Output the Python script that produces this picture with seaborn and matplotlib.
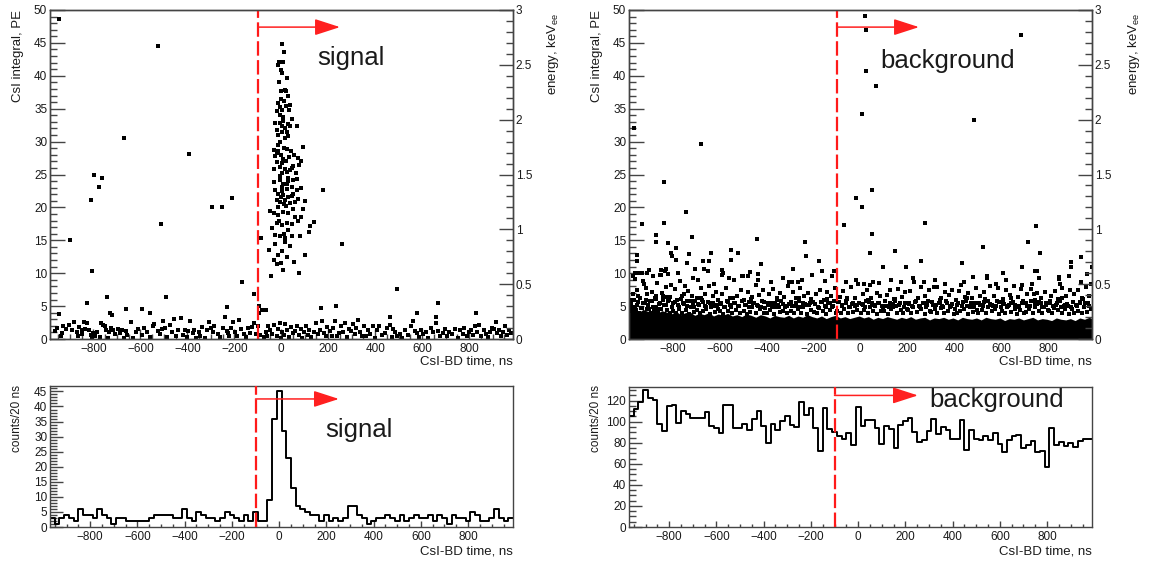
import numpy as np
import pandas as pd
import matplotlib
matplotlib.use("Agg")
import matplotlib.pyplot as plt
import seaborn as sns
from matplotlib.ticker import MultipleLocator, FuncFormatter

# ---------------- data ----------------
# signal scatter: sparse outliers
sig_out_x = [-948, -527, -671, -391, -796, -763, -775, -812, -898, -804, -512, -293, -253, -210,
             -167, -117, -86, -45, -827, -741, -491, -728, -720, -946, -660, -592, -557, -232,
             -66, -96, -96, 179, 257, 495, 668, 233, 168, 831, 576, 463, 661, 916, 77, 9]
sig_out_y = [48.6, 44.6, 30.6, 28.1, 25.0, 24.5, 23.1, 21.2, 15.0, 10.3, 17.5, 20.1, 20.1, 21.4,
             8.7, 6.9, 15.3, 9.6, 5.5, 6.4, 6.4, 3.9, 3.7, 3.8, 4.5, 4.5, 4.0, 4.9,
             4.4, 5.0, 4.0, 22.6, 14.5, 7.6, 5.5, 5.0, 4.7, 3.9, 3.9, 3.4, 3.4, 2.6, 10.1, 10.5]
# signal scatter: prompt cluster
sig_cl_x = [5, 13, -9, 9, -12, -3, 1, 26, -9,
            -3, 15, 22, -16, -7, 20, 37, -19, 2, 34, -5, 9, -1, 12, 28,
            -26, -7, 2, 30, 37, 66, 16, -12, 23, 16, -5, 8, 45, -18, 28, 5,
            -12, -33, -14, -19, 40, 91, 33, 9, -19, 2, 20, 73, 83, -5, 16, 52, 77, 2, 23, 37, -7, 30,
            -25, 12, 26, 55, -2, 44, 62, -30,
            -5, 9, 30, 52, 66, 2, 23, 44, 66, -12, 9, 30, 52, 73, -19, -5, 16, 37, 59, -26, 86, 20,
            -12, 44, 5, 26, -2, 12, -33, 100,
            -33, -12, 9, 30, 52, 94, -19, 2, 23, 44, 73, 123, -5, 16, 44, 80, 116, -40, 60, -25, 30,
            10, -10, 85, -48, 140,
            37, -33, -12, 2, -19, -54, 23, 55, -26, -2, 15, 100]
sig_cl_y = [44.8, 43.6, 42.1, 42.1, 41.6, 40.9, 40.5, 39.7, 39.1,
            37.7, 37.8, 37.7, 35.8, 35.3, 35.4, 35.5, 34.7, 34.8, 34.8, 34.0, 33.7, 36.5, 36.2, 37.0,
            32.8, 32.9, 32.4, 32.7, 32.4, 32.4, 32.0, 31.0, 31.4, 30.5, 30.0, 33.2, 33.5, 31.8, 30.8, 31.5,
            29.5, 28.7, 28.5, 28.2, 28.5, 29.2, 27.7, 27.3, 26.9, 26.8, 27.0, 27.5, 27.1, 26.2, 25.9, 26.3,
            26.4, 25.2, 25.4, 25.7, 24.7, 24.4,
            27.8, 29.0, 28.9, 28.0, 28.0, 26.0, 25.3, 25.8,
            24.2, 23.6, 24.0, 24.2, 24.3, 23.1, 22.8, 23.1, 22.6, 22.1, 21.9, 21.6, 22.1, 21.3, 21.1, 20.8,
            21.1, 20.6, 20.8, 22.6, 23.0, 20.2,
            20.0, 21.8, 22.5, 23.5, 21.6, 20.5, 23.8, 20.9,
            19.1, 18.8, 19.3, 19.1, 19.7, 19.7, 17.6, 17.3, 17.6, 17.5, 17.9, 17.2, 15.6, 15.3, 15.6, 15.6,
            16.3, 16.8, 18.5, 15.8, 16.5,
            16.0, 18.0, 18.6, 19.5, 17.8,
            14.1, 12.0, 12.7, 13.3, 11.4, 13.5, 12.5, 11.7, 14.4, 11.5, 14.8, 12.7]
# signal scatter: low-amplitude band
sig_lo_x = [-965, -955, -940, -928, -918, -905, -935, -890, -882, -872, -861, -850, -842, -835, -826,
            -818, -812, -805, -800, -848, -866, -792, -784, -771, -760, -752, -745, -733, -725, -716,
            -707, -768, -740, -695, -686, -677, -668, -655, -642, -630, -620, -610, -660, -595, -585,
            -570, -560, -548, -540, -527, -516, -508, -502, -495, -485, -476, -466, -455, -448, -440,
            -428, -420, -410, -402, -396, -388, -378, -370, -362, -352, -345, -338, -326, -318, -306,
            -300, -292, -285, -270, -262, -250, -240, -232, -222, -214, -205, -225, -196, -188, -180,
            -172, -160, -150, -142, -132, -126, -118, -108, -97, -90, -82, -75, -65, -55, -48,
            -40, -30, -20, -12, -5, -2, -62, 5, 12, 18, 26, 34, 42, 50, 58,
            66, 74, 82, 90, 96, 104, 112, 120, 128, 138, 148, 156, 164, 172, 180,
            190, 196, 206, 214, 222, 230, 238, 248, 256, 265, 272, 282, 290, 298, 305,
            312, 320, 328, 336, 344, 352, 362, 370, 380, 390, 398, 408, 418, 428, 440,
            450, 462, 470, 478, 486, 494, 505, 515, 528, 540, 552, 560, 568, 578, 585,
            595, 605, 615, 625, 638, 648, 660, 668, 678, 688, 698, 708, 716, 728, 740,
            752, 762, 772, 780, 790, 798, 808, 816, 826, 834, 842, 852, 862, 870, 880,
            890, 898, 908, 914, 920, 928, 938, 946, 955, 962, 970, 978]
sig_lo_y = [1.2, 1.6, 0.4, 1.9, 1.5, 2.1, 0.9, 1.3, 2.6, 1.0, 1.8, 0.7, 2.6, 1.5, 2.5,
            1.3, 0.6, 0.2, 0.9, 1.4, 0.5, 0.4, 1.1, 0.3, 2.2, 1.9, 1.3, 1.0, 1.6, 1.3,
            0.8, 2.5, 0.2, 1.5, 0.9, 1.4, 0.2, 0.6, 2.6, 0.1, 1.0, 1.5, 1.2, 0.6, 1.6,
            1.0, 0.3, 1.9, 2.3, 1.2, 0.7, 1.5, 2.7, 1.6, 0.3, 2.2, 1.0, 3.1, 0.5, 1.3,
            3.2, 0.6, 1.4, 0.3, 1.2, 2.8, 0.9, 1.4, 0.2, 1.1, 0.5, 1.8, 0.2, 1.3, 2.6,
            1.6, 1.0, 1.9, 0.8, 0.3, 1.6, 3.3, 1.2, 0.4, 1.6, 2.6, 0.9, 1.1, 0.4, 2.9,
            1.5, 0.8, 0.3, 1.6, 0.9, 1.8, 2.5, 0.7, 1.9, 0.6, 4.4, 0.3, 1.0, 1.9, 1.4,
            0.8, 2.1, 0.4, 1.5, 2.4, 0.2, 0.4, 1.0, 0.6, 2.3, 1.4, 0.3, 1.8, 0.9, 1.2,
            2.0, 0.6, 1.5, 0.2, 1.1, 1.9, 0.6, 1.4, 0.3, 1.1, 2.4, 0.7, 1.3, 2.8, 0.9,
            0.4, 1.8, 1.2, 0.5, 1.6, 2.7, 0.4, 0.9, 2.0, 1.0, 2.5, 0.3, 1.5, 1.2, 2.3,
            0.8, 1.7, 2.9, 1.1, 0.5, 2.0, 0.4, 1.3, 0.7, 1.9, 0.2, 1.3, 2.0, 0.6, 0.9,
            1.7, 2.1, 0.3, 1.5, 1.0, 0.5, 0.8, 0.2, 1.4, 0.6, 1.9, 2.8, 1.2, 0.9, 0.3,
            1.3, 0.7, 1.0, 0.2, 1.6, 1.1, 2.5, 1.2, 0.5, 0.9, 1.5, 0.4, 1.1, 0.7, 1.5,
            0.2, 1.3, 0.8, 1.6, 0.4, 1.1, 1.4, 0.6, 1.9, 1.1, 2.2, 0.5, 1.3, 0.8, 0.3,
            1.0, 1.7, 1.5, 2.6, 0.9, 1.3, 0.4, 1.1, 2.0, 0.6, 1.4, 0.9]

# background scatter: high outliers
bg_hi_x = [21, 26, 26, 65, 9, -964, -679, 683, 484,
           -836, -743, -928, -836, -871, -717, -821, -871, -441, -234, -230, -177, -162, -110, -71,
           -17, 7, 51, 51, 40, -551, -551, -519, -637, -644, -423, -288, -900, -950, -950, -960,
           -786, -807, -800, -786, -850, -826, -588, -588, -480, -503, -435, -703, -665, -736, -850,
           -907, -930, -302, -267, 275, 749, 716, 766, 524, 146, 260, 196, 435, 97, 687, 609, 744,
           752, 941, 896, 896, 986, 848, 848]
bg_hi_y = [49.1, 47.0, 40.8, 38.4, 34.2, 32.0, 29.6, 46.2, 33.3,
           23.8, 19.3, 17.5, 17.6, 15.8, 15.5, 14.6, 14.7, 15.2, 14.7, 12.6, 11.9, 10.3, 10.3, 17.4,
           21.4, 20.1, 22.7, 16.0, 13.0, 13.5, 12.0, 13.0, 13.1, 11.8, 11.4, 10.6, 10.5, 12.7, 11.8, 10.0,
           13.8, 13.1, 12.6, 12.0, 10.5, 10.7, 10.5, 9.8, 9.5, 9.5, 9.0, 10.6, 10.6, 11.6, 9.7,
           10.0, 10.1, 8.7, 8.7, 17.7, 17.1, 14.7, 13.1, 14.0, 13.4, 11.9, 11.0, 11.5, 11.0, 11.0, 10.0, 10.3,
           10.4, 12.4, 11.7, 11.0, 10.9, 9.4, 9.1]
# background scatter: medium band (5-10 PE)
bg_md_x = [-975, -968, -961, -951, -946, -937, -931, -921, -916, -907, -902, -958, -942, -925, -970, -912,
           -895, -887, -881, -871, -866, -857, -851, -842, -837, -827, -821, -811, -806, -884, -862, -846, -833, -818,
           -796, -787, -781, -771, -766, -755, -749, -739, -733, -723, -717, -707, -776, -745, -712, -728,
           -694, -687, -677, -671, -661, -655, -645, -639, -629, -623, -613, -607, -690, -650, -625, -668,
           -596, -587, -581, -571, -565, -555, -549, -539, -533, -523, -517, -507, -584, -560, -500,
           -494, -488, -478, -472, -462, -456, -446, -440, -430, -424, -414, -408, -470, -435,
           -394, -388, -378, -372, -362, -356, -346, -340, -330, -324, -314, -308, -380, -330,
           -294, -288, -278, -272, -262, -256, -246, -240, -230, -224, -214, -208, -290, -250, -205,
           -194, -188, -178, -172, -162, -156, -146, -140, -130, -124, -114, -108, -150, -120,
           -94, -88, -78, -72, -62, -56, -46, -40, -30, -24, -14, -8, -60, -20,
           6, 12, 22, 28, 38, 44, 54, 60, 70, 76, 86, 92, 40, 80, 15,
           106, 112, 122, 128, 138, 144, 154, 160, 170, 176, 186, 192, 130, 175,
           206, 212, 222, 228, 238, 244, 254, 260, 270, 276, 286, 292, 225, 270,
           306, 312, 322, 328, 338, 344, 354, 360, 370, 376, 386, 392, 320, 360,
           406, 412, 422, 428, 438, 444, 454, 460, 470, 476, 486, 492, 440, 480,
           506, 512, 522, 528, 538, 544, 554, 560, 570, 576, 586, 592, 540, 580,
           606, 612, 622, 628, 638, 644, 654, 660, 670, 676, 686, 692, 620, 690,
           706, 712, 722, 728, 738, 744, 754, 760, 770, 776, 786, 792, 730, 760,
           806, 812, 822, 828, 838, 844, 854, 860, 870, 876, 886, 892, 850, 890,
           906, 912, 922, 928, 938, 944, 954, 960, 970, 976, 982, 940, 965]
bg_md_y = [5.2, 6.8, 4.9, 7.5, 5.6, 6.2, 4.7, 8.3, 5.4, 6.9, 5.0, 9.1, 10.0, 8.8, 9.6, 7.8,
           5.8, 7.2, 4.9, 6.1, 8.5, 5.3, 9.7, 6.6, 5.1, 7.9, 5.7, 6.4, 8.2, 9.6, 4.6, 7.0, 10.4, 9.9,
           5.4, 7.6, 6.0, 4.8, 8.8, 5.5, 6.9, 5.0, 7.3, 5.8, 6.5, 4.9, 10.0, 8.1, 9.3, 12.9,
           6.2, 5.1, 7.8, 5.6, 6.9, 4.8, 8.0, 5.4, 6.5, 5.0, 7.2, 5.9, 9.0, 10.3, 8.4, 11.9,
           5.3, 6.8, 4.9, 7.7, 5.6, 6.2, 4.8, 8.9, 5.5, 6.6, 5.0, 7.4, 10.1, 9.2, 9.5,
           6.0, 5.2, 7.1, 4.9, 6.4, 5.5, 8.2, 5.1, 6.7, 4.8, 7.5, 5.6, 10.2, 9.9,
           5.4, 6.9, 4.8, 7.6, 5.5, 6.2, 4.9, 7.0, 5.3, 6.4, 5.0, 8.1, 8.7, 9.3,
           5.6, 7.2, 5.0, 6.3, 4.8, 7.8, 5.4, 6.6, 5.1, 7.0, 5.5, 6.1, 8.6, 9.0, 9.8,
           5.3, 6.8, 4.9, 7.4, 5.6, 6.0, 4.8, 7.1, 5.4, 6.5, 5.0, 7.7, 8.8, 9.5,
           5.6, 6.4, 5.0, 7.3, 5.4, 6.1, 4.8, 7.9, 5.5, 6.2, 5.1, 8.3, 8.6, 9.0,
           5.3, 6.9, 4.9, 7.5, 5.6, 6.3, 8.6, 5.2, 7.0, 5.5, 6.6, 5.0, 8.2, 8.5, 8.3,
           5.8, 6.7, 4.9, 7.4, 5.3, 6.1, 5.0, 7.6, 5.5, 6.4, 4.8, 7.1, 8.9, 8.7,
           5.4, 7.3, 5.0, 8.7, 5.7, 6.3, 4.9, 7.9, 5.5, 6.6, 5.1, 7.4, 9.2, 8.6,
           5.6, 7.9, 5.1, 7.9, 5.5, 6.2, 4.9, 7.1, 5.4, 6.7, 5.0, 7.5, 9.0, 8.4,
           6.0, 5.2, 7.3, 8.2, 5.6, 6.4, 5.0, 7.0, 5.5, 6.2, 4.9, 7.8, 8.6, 9.4,
           5.5, 6.6, 5.0, 7.2, 9.2, 5.7, 8.0, 5.2, 6.5, 5.0, 7.7, 5.6, 9.5, 8.3,
           6.1, 5.3, 7.4, 5.0, 6.7, 5.5, 8.1, 5.1, 6.4, 4.9, 7.6, 5.7, 9.0, 8.2,
           5.4, 6.9, 5.0, 7.6, 6.8, 5.3, 7.0, 5.6, 6.3, 4.9, 7.2, 5.5, 8.3, 9.2,
           5.8, 6.5, 5.0, 7.3, 5.5, 6.1, 4.8, 7.8, 5.2, 6.6, 5.0, 7.5, 8.4, 9.6,
           5.6, 6.8, 5.0, 7.4, 5.4, 6.2, 4.9, 7.9, 5.5, 6.6, 8.4, 8.7, 9.9]
# background scatter: points just above the saturated band (3.8-6.6 PE)
bg_lo_x = [-982, -977, -971, -966, -962, -957, -950, -944, -939, -933, -927, -920, -914, -909, -903, -948, -973,
           -898, -893, -886, -879, -874, -868, -860, -855, -848, -840, -834, -829, -823, -815, -809, -803, -870, -826,
           -798, -791, -785, -778, -770, -763, -758, -751, -744, -736, -730, -721, -714, -709, -702, -760,
           -697, -691, -683, -676, -669, -663, -657, -649, -642, -635, -628, -619, -611, -604, -680,
           -598, -592, -585, -577, -569, -562, -553, -546, -537, -529, -520, -513, -505, -543,
           -497, -490, -483, -476, -468, -459, -452, -444, -437, -428, -420, -412, -404, -466,
           -398, -391, -383, -375, -367, -360, -351, -343, -336, -327, -319, -311, -303, -356,
           -297, -290, -282, -275, -267, -259, -251, -243, -236, -228, -219, -211, -203, -262,
           -198, -191, -183, -176, -168, -159, -152, -144, -136, -128, -121, -112, -104, -140,
           -98, -91, -84, -76, -68, -61, -52, -45, -37, -29, -22, -13, -4, -57,
           3, 10, 17, 25, 33, 41, 48, 56, 64, 72, 79, 87, 95, 35,
           102, 109, 117, 125, 133, 141, 149, 157, 165, 173, 181, 189, 197, 150,
           202, 209, 217, 226, 234, 242, 250, 258, 266, 274, 282, 290, 298, 245,
           303, 311, 318, 326, 334, 342, 350, 358, 366, 374, 382, 390, 398, 340,
           402, 410, 418, 426, 434, 442, 450, 458, 466, 474, 482, 490, 498, 455,
           503, 511, 519, 527, 535, 543, 551, 559, 567, 575, 583, 591, 599, 530,
           602, 610, 618, 626, 634, 642, 650, 658, 666, 674, 682, 690, 698, 640,
           704, 712, 720, 728, 736, 744, 752, 760, 768, 776, 784, 792, 799, 745,
           802, 810, 818, 826, 834, 842, 850, 858, 866, 874, 882, 890, 898, 860,
           903, 911, 919, 927, 935, 943, 951, 959, 967, 975, 983, 948]
bg_lo_y = [4.2, 5.6, 4.6, 3.9, 5.9, 4.4, 5.1, 4.0, 6.3, 4.7, 5.4, 3.8, 6.0, 4.5, 5.2, 6.6, 5.9,
           4.5, 3.9, 5.7, 4.3, 6.2, 4.8, 4.1, 5.5, 4.6, 6.0, 3.8, 5.2, 4.4, 5.9, 4.0, 4.9, 6.6, 6.4,
           4.3, 5.6, 3.9, 5.1, 4.6, 6.1, 4.0, 5.3, 4.4, 5.8, 3.8, 4.9, 5.4, 4.1, 5.7, 6.5,
           4.4, 5.3, 3.9, 5.9, 4.2, 5.0, 4.6, 5.6, 3.8, 4.9, 5.5, 4.1, 5.2, 4.5, 6.3,
           4.2, 5.4, 3.8, 4.8, 5.8, 4.3, 5.1, 3.9, 5.5, 4.4, 5.0, 4.0, 5.7, 6.2,
           4.3, 5.2, 3.8, 5.6, 4.1, 4.9, 5.4, 4.0, 5.0, 4.5, 5.8, 3.9, 4.7, 6.1,
           4.0, 5.1, 4.4, 5.5, 3.8, 4.8, 5.2, 4.1, 5.7, 4.3, 4.9, 3.9, 5.3, 6.0,
           4.2, 5.0, 3.9, 5.4, 4.5, 5.8, 4.0, 4.8, 5.3, 3.8, 5.1, 4.4, 5.6, 6.2,
           4.1, 5.3, 3.9, 4.7, 5.6, 4.2, 5.0, 3.8, 5.4, 4.4, 4.9, 5.7, 4.0, 6.1,
           4.3, 5.6, 4.0, 5.1, 4.5, 5.8, 3.9, 4.8, 5.3, 4.1, 5.0, 4.4, 5.5, 6.3,
           4.0, 5.2, 4.4, 5.7, 3.9, 4.9, 5.4, 4.2, 5.0, 3.8, 5.5, 4.3, 4.8, 6.0,
           4.2, 5.0, 3.8, 5.4, 4.5, 4.9, 5.7, 4.0, 5.2, 4.4, 3.9, 5.5, 4.6, 6.1,
           4.4, 5.3, 3.9, 4.8, 5.6, 4.1, 5.0, 4.5, 5.4, 3.8, 4.9, 5.7, 4.2, 6.2,
           4.1, 5.2, 4.5, 3.9, 5.5, 4.7, 5.0, 4.0, 5.8, 4.3, 4.9, 5.3, 3.8, 6.0,
           4.6, 3.9, 5.4, 4.2, 5.0, 4.5, 5.7, 3.8, 4.9, 5.3, 4.1, 5.5, 4.4, 6.3,
           4.0, 5.1, 4.4, 5.6, 3.9, 4.8, 5.3, 4.2, 5.0, 4.6, 5.8, 3.8, 4.9, 6.1,
           4.3, 5.4, 3.9, 4.9, 5.2, 4.1, 5.6, 4.5, 3.8, 5.0, 4.4, 5.5, 4.0, 6.2,
           4.1, 5.0, 4.5, 5.7, 3.9, 4.8, 5.3, 4.2, 5.5, 4.0, 4.9, 5.2, 4.4, 6.0,
           4.2, 5.5, 3.9, 4.7, 5.1, 4.4, 5.8, 4.0, 5.0, 4.6, 5.3, 3.8, 4.9, 6.2,
           4.5, 3.9, 5.2, 4.3, 5.6, 4.0, 4.8, 5.4, 4.1, 5.0, 4.6, 6.1]
# background scatter: upper edge of the saturated (fully black) low-amplitude band
bg_band_x = [-985, -965, -945, -925, -905, -885, -865, -845, -825, -805, -785, -765, -745, -725, -705,
             -685, -665, -645, -625, -605, -585, -565, -545, -525, -505, -485, -465, -445, -425, -405,
             -385, -365, -345, -325, -305, -285, -265, -245, -225, -205, -185, -165, -145, -125, -105,
             -85, -65, -45, -25, -5, 15, 35, 55, 75, 95, 115, 135, 155, 175, 195,
             215, 235, 255, 275, 295, 315, 335, 355, 375, 395, 415, 435, 455, 475, 495,
             515, 535, 555, 575, 595, 615, 635, 655, 675, 695, 715, 735, 755, 775, 795,
             815, 835, 855, 875, 895, 915, 935, 955, 975, 987]
bg_band_top = [4.3, 4.6, 4.0, 4.5, 4.2, 4.4, 3.9, 4.3, 4.1, 3.8, 4.2, 3.7, 4.0, 4.1, 3.6,
               3.9, 3.7, 4.0, 3.5, 3.8, 3.6, 3.9, 3.5, 3.7, 3.4, 3.8, 3.6, 3.3, 3.7, 3.5,
               3.2, 3.6, 3.4, 3.3, 3.6, 3.2, 3.5, 3.3, 3.7, 3.4, 3.2, 3.5, 3.1, 3.4, 3.6,
               3.2, 3.4, 3.1, 3.3, 3.5, 3.2, 3.4, 3.0, 3.3, 3.1, 3.4, 3.2, 3.0, 3.3, 3.1,
               3.4, 3.0, 3.2, 3.3, 2.9, 3.2, 3.1, 3.3, 3.0, 3.2, 2.9, 3.3, 3.1, 3.0, 3.2,
               2.9, 3.3, 3.1, 3.0, 3.2, 2.8, 3.1, 3.0, 3.2, 2.9, 3.1, 3.3, 2.9, 3.1, 3.0,
               2.8, 3.2, 3.0, 2.9, 3.1, 2.8, 3.2, 3.0, 3.3, 3.1]

# histograms: counts per 20 ns bin, bins from -970 to 990 ns
hist_centers = list(range(-960, 981, 20))
sig_counts = [3, 1, 3, 4, 3, 2, 6, 4, 4, 3,
              6, 4, 3, 1, 3, 3, 2, 2, 2, 2,
              2, 3, 4, 4, 4, 4, 3, 3, 6, 3,
              2, 5, 4, 3, 3, 2, 3, 5, 4, 3,
              2, 4, 2, 5, 2, 2, 9, 36, 45, 32,
              23, 13, 7, 6, 5, 4, 4, 2, 4, 2,
              3, 2, 3, 7, 7, 4, 3, 1, 2, 3,
              3, 4, 3, 2, 4, 2, 3, 4, 3, 3,
              4, 2, 4, 3, 1, 4, 3, 3, 2, 5,
              4, 2, 2, 3, 6, 3, 2, 3]
bg_counts = [105, 112, 119, 130, 123, 121, 98, 91, 115, 116,
             99, 110, 107, 104, 104, 104, 109, 96, 94, 89,
             116, 116, 94, 94, 98, 92, 103, 110, 96, 80,
             98, 92, 101, 105, 97, 95, 119, 106, 113, 94,
             72, 113, 93, 90, 86, 84, 89, 78, 114, 96,
             102, 102, 94, 79, 96, 93, 75, 97, 101, 104,
             90, 81, 83, 91, 103, 88, 95, 92, 84, 84,
             102, 73, 92, 84, 83, 86, 83, 89, 79, 71,
             83, 86, 87, 75, 78, 82, 71, 72, 57, 94,
             78, 81, 77, 80, 76, 82, 84, 84]
hist_edges = list(range(-970, 991, 20))

cut_time = -100
panel_labels = ["signal", "background"]
xlabel = "CsI-BD time, ns"
ylabel_top = "CsI integral, PE"
ylabel_bot = "counts/20 ns"
ylabel_energy = r"energy, keV$_{\mathregular{ee}}$"

# ---------------- style ----------------
sns.set_theme(style="white")
plt.rcParams['font.family'] = ['Liberation Sans', 'DejaVu Sans']
plt.rcParams['mathtext.fontset'] = 'custom'
plt.rcParams['mathtext.rm'] = 'Liberation Sans'
plt.rcParams['mathtext.it'] = 'Liberation Sans:italic'

W, H = 1150, 563
fig = plt.figure(figsize=(W / 100, H / 100), dpi=100)
fig.patch.set_facecolor('white')


def add_ax(l, t, r, b):
    return fig.add_axes([l / W, 1 - b / H, (r - l) / W, (b - t) / H])


TXT = '#1a1a1a'
SPC = '#444444'


def style(ax, ymaj, ymin, xlen, ylen):
    ax.set_facecolor('white')
    ax.xaxis.set_major_locator(MultipleLocator(200))
    ax.xaxis.set_minor_locator(MultipleLocator(50))
    ax.yaxis.set_major_locator(MultipleLocator(ymaj))
    ax.yaxis.set_minor_locator(MultipleLocator(ymin))
    ax.tick_params(axis='x', which='major', direction='in', length=xlen, width=1, color=SPC,
                   labelsize=8.5, labelcolor=TXT, pad=3, bottom=True, top=False)
    ax.tick_params(axis='x', which='minor', direction='in', length=xlen / 2, width=1, color=SPC,
                   bottom=True, top=False)
    ax.tick_params(axis='y', which='major', direction='in', length=ylen, width=1, color=SPC,
                   labelsize=8.5, labelcolor=TXT, pad=2, left=True, right=False)
    ax.tick_params(axis='y', which='minor', direction='in', length=ylen / 2, width=1, color=SPC,
                   left=True, right=False)
    ax.yaxis.set_major_formatter(FuncFormatter(lambda v, p: f"{v:g}"))
    for s in ax.spines.values():
        s.set_color(SPC)
        s.set_linewidth(1)
    ax.set_xlabel('')
    ax.set_ylabel('')
    ax.grid(False)


def arrow(ax, y, x_end):
    ax.axvline(cut_time, color='#ff1a1a', lw=1.6, ls=(0, (6.5, 2)), zorder=5)
    ax.annotate('', xy=(x_end, y), xytext=(cut_time, y),
                arrowprops=dict(arrowstyle='-|>,head_length=1.3,head_width=0.42',
                                color='#ff2020', lw=1.1, shrinkA=0, shrinkB=0), zorder=6)


def pts(xs, ys):
    n = min(len(xs), len(ys))
    return list(xs[:n]), list(ys[:n])


XL = (-985, 987)
XLH = (-970, 990)
MS = 5

# ---------- top-left: signal scatter ----------
ax1 = add_ax(50, 10, 513, 339)
sx, sy = [], []
for xs, ys in ((sig_out_x, sig_out_y), (sig_cl_x, sig_cl_y), (sig_lo_x, sig_lo_y)):
    a, b = pts(xs, ys)
    sx += a
    sy += b
sig_df = pd.DataFrame({'t': sx, 'q': sy})
sns.scatterplot(data=sig_df, x='t', y='q', ax=ax1, color='black', marker='s', s=MS, linewidth=0,
                legend=False)
ax1.set_xlim(*XL)
ax1.set_ylim(0, 50)
style(ax1, 5, 1, 7, 10.5)
arrow(ax1, 47.4, 250)
ax1.text(152, 42.7, panel_labels[0], fontsize=18.5, color=TXT, ha='left', va='center')

# ---------- top-right: background scatter ----------
ax2 = add_ax(629, 10, 1092, 339)
ax2.fill_between(bg_band_x, 0, bg_band_top, color='black', lw=0, zorder=2)
bx, by = [], []
for xs, ys in ((bg_hi_x, bg_hi_y), (bg_md_x, bg_md_y), (bg_lo_x, bg_lo_y)):
    a, b = pts(xs, ys)
    bx += a
    by += b
bg_df = pd.DataFrame({'t': bx, 'q': by})
sns.scatterplot(data=bg_df, x='t', y='q', ax=ax2, color='black', marker='s', s=MS, linewidth=0,
                legend=False, zorder=3)
ax2.set_xlim(*XL)
ax2.set_ylim(0, 50)
style(ax2, 5, 1, 7, 10.5)
arrow(ax2, 47.4, 250)
ax2.text(87, 42.2, panel_labels[1], fontsize=18.5, color=TXT, ha='left', va='center')

# energy axes
for ax in (ax1, ax2):
    tw = ax.twinx()
    tw.set_ylim(0, 3)
    tw.yaxis.set_major_locator(MultipleLocator(0.5))
    tw.yaxis.set_minor_locator(MultipleLocator(0.1))
    tw.yaxis.set_major_formatter(FuncFormatter(lambda v, p: f"{v:g}"))
    tw.tick_params(axis='y', which='major', direction='in', length=10, width=1, color=SPC,
                   labelsize=8.5, labelcolor=TXT, pad=2, right=True, left=False)
    tw.tick_params(axis='y', which='minor', direction='in', length=5, width=1, color=SPC,
                   right=True, left=False)
    for s in tw.spines.values():
        s.set_color(SPC)
        s.set_linewidth(1)
    tw.grid(False)

# ---------- bottom-left: signal histogram ----------
ax3 = add_ax(50, 386, 513, 527)
sns.histplot(x=hist_centers, weights=sig_counts, bins=hist_edges, element='step', fill=False,
             color='black', linewidth=1.4, ax=ax3)
ax3.set_xlim(*XLH)
ax3.set_ylim(0, 46.8)
style(ax3, 5, 1, 4.5, 9.5)
arrow(ax3, 42.5, 253)
ax3.text(197, 32.3, panel_labels[0], fontsize=18.5, color=TXT, ha='left', va='center')

# ---------- bottom-right: background histogram ----------
ax4 = add_ax(629, 387, 1092, 527)
sns.histplot(x=hist_centers, weights=bg_counts, bins=hist_edges, element='step', fill=False,
             color='black', linewidth=1.4, ax=ax4)
ax4.set_xlim(*XLH)
ax4.set_ylim(0, 133)
style(ax4, 20, 5, 4.5, 9.5)
arrow(ax4, 125, 253)
ax4.text(300, 121, panel_labels[1], fontsize=18.5, color=TXT, ha='left', va='center')

# ---------- axis titles ----------
def ftext(x, y, s, **kw):
    fig.text(x / W, 1 - y / H, s, color=TXT, **kw)

ftext(513, 362, xlabel, fontsize=9.5, ha='right', va='center')
ftext(1092, 362, xlabel, fontsize=9.5, ha='right', va='center')
ftext(513, 551, xlabel, fontsize=9.5, ha='right', va='center')
ftext(1092, 551, xlabel, fontsize=9.5, ha='right', va='center')
ftext(18, 10, ylabel_top, fontsize=9.5, rotation=90, ha='center', va='top')
ftext(597, 10, ylabel_top, fontsize=9.5, rotation=90, ha='center', va='top')
ftext(17, 385, ylabel_bot, fontsize=8.5, rotation=90, ha='center', va='top')
ftext(596, 385, ylabel_bot, fontsize=8.5, rotation=90, ha='center', va='top')
ftext(553, 12, ylabel_energy, fontsize=9.5, rotation=90, ha='center', va='top')
ftext(1134, 12, ylabel_energy, fontsize=9.5, rotation=90, ha='center', va='top')

fig.savefig('out.png', dpi=100, facecolor='white')
